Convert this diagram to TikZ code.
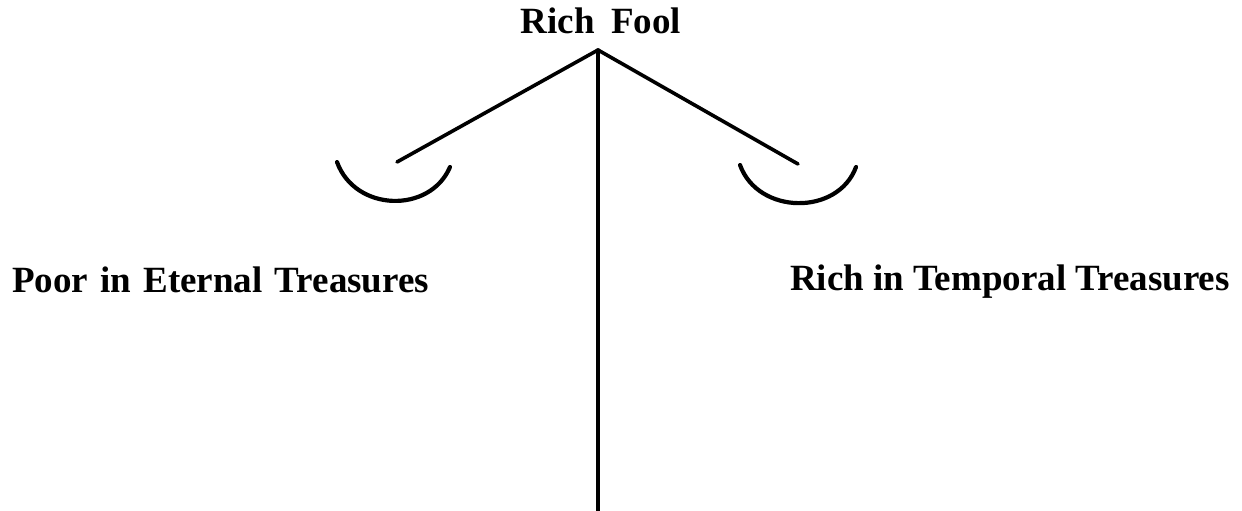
\documentclass[tikz,border=0pt]{standalone}
\usepackage{fontspec}
\setmainfont{Liberation Serif}
\begin{document}
\begin{tikzpicture}[x=1pt,y=-1pt,
  lbl/.style={font=\bfseries\fontsize{37}{40}\selectfont, inner sep=0pt},
  beam/.style={line width=3.6pt, line cap=round},
  pan/.style={line width=4.2pt, line cap=round}]
\useasboundingbox (0,0) rectangle (1242,511);
\coordinate (apex) at (598,50);
\coordinate (base) at (598,511);
\coordinate (lend) at (397,162);
\coordinate (rend) at (798,164);
\node[lbl, anchor=base] (title) at (601,34) {Rich\hspace{0.45em}Fool};
\node[lbl, anchor=base west] (left) at (12,292) {Poor\hspace{0.33em}in\hspace{0.33em}Eternal\hspace{0.33em}Treasures};
\node[lbl, anchor=base west] (right) at (790,290) {Rich\hspace{0.25em}in\hspace{0.25em}Temporal\hspace{0.25em}Treasures};
\draw[beam] (apex) -- (base);
\draw[beam] (apex) -- (lend);
\draw[beam] (apex) -- (rend);
\draw[pan] (337,162) .. controls (355,212) and (430,214) .. (450,167);
\draw[pan] (740,165) .. controls (758,215) and (838,216) .. (856,167);
\end{tikzpicture}
\end{document}
